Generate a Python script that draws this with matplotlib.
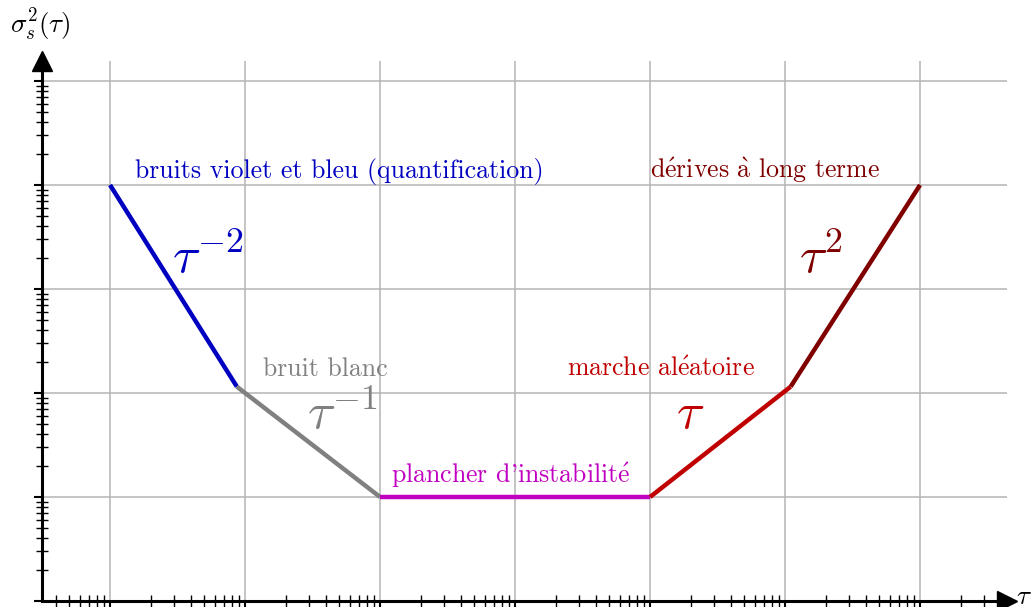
import numpy as np
import matplotlib
matplotlib.use('Agg')
import matplotlib.pyplot as plt
from matplotlib.ticker import LogLocator, NullFormatter

plt.rcParams['mathtext.fontset'] = 'cm'
plt.rcParams['font.family'] = ['cmr10', 'DejaVu Serif']
plt.rcParams['axes.unicode_minus'] = False

# segments of the Allan variance sketch (tau, sigma^2)
seg_tau = [[1, 8.7], [8.7, 100], [100, 1e4], [1e4, 1.1e5], [1.1e5, 1e6]]
seg_var = [[1e4, 115], [115, 10], [10, 10], [10, 115], [115, 1e4]]
seg_colors = ['#0000c0', '#808080', '#c000c0', '#c00000', '#800000']

# noise names and slopes (accents through mathtext, cmr10 has none)
noise_names = ['bruits violet et bleu (quantification)', 'bruit blanc',
               "plancher d'instabilit$\\mathrm{\\acute{e}}$",
               'marche al$\\mathrm{\\acute{e}}$atoire',
               'd$\\mathrm{\\acute{e}}$rives $\\mathrm{\\grave{a}}$ long terme']
name_pos = [(1.53, 1.17e4), (13.6, 145), (120, 13.6), (2430, 145), (1e4, 1.17e4)]
slope_labels = [r'$\tau^{-2}$', r'$\tau^{-1}$', r'$\tau$', r'$\tau^{2}$']
slope_pos = [(2.9, 1410), (28.8, 45.7), (15500, 45.7), (1.26e5, 1410)]
slope_colors = ['#0000c0', '#808080', '#c00000', '#800000']

fig = plt.figure(figsize=(10.32, 6.07), dpi=100)
ax = fig.add_axes([42 / 1032, 6 / 607, 965 / 1032, 540 / 607])
ax.set_xscale('log')
ax.set_yscale('log')
ax.set_xlim(10 ** -0.504, 10 ** 6.644)
ax.set_ylim(1, 10 ** 5.192)

ax.xaxis.set_major_locator(LogLocator(base=10, numticks=20))
ax.xaxis.set_minor_locator(LogLocator(base=10, subs=np.arange(2, 10), numticks=20))
ax.yaxis.set_major_locator(LogLocator(base=10, numticks=20))
ax.yaxis.set_minor_locator(LogLocator(base=10, subs=np.arange(2, 10), numticks=20))
ax.xaxis.set_major_formatter(NullFormatter())
ax.xaxis.set_minor_formatter(NullFormatter())
ax.yaxis.set_major_formatter(NullFormatter())
ax.yaxis.set_minor_formatter(NullFormatter())

ax.grid(True, which='major', color='#b4b4b4', linewidth=1.1)
ax.set_axisbelow(True)
ax.tick_params(which='major', direction='out', length=6, width=1.5, color='black')
ax.tick_params(which='minor', direction='inout', length=8, width=1.0, color='black')

for s in ['top', 'right']:
    ax.spines[s].set_visible(False)
for s in ['left', 'bottom']:
    ax.spines[s].set_linewidth(2.2)
    ax.spines[s].set_zorder(5)

for t, v, c in zip(seg_tau, seg_var, seg_colors):
    ax.plot(t, v, color=c, linewidth=3.2, solid_capstyle='butt', zorder=3)

for name, (x, y), c in zip(noise_names, name_pos, seg_colors):
    ax.text(x, y, name, color=c, fontsize=18.6, va='baseline', ha='left')

for lab, (x, y), c in zip(slope_labels, slope_pos, slope_colors):
    ax.text(x, y, lab, color=c, fontsize=37, va='baseline', ha='left')

# arrow heads
ax.plot([1], [0], marker='>', markersize=14, color='black', transform=ax.transAxes,
        clip_on=False, zorder=6)
ax.plot([0], [1], marker='^', markersize=14, color='black', transform=ax.transAxes,
        clip_on=False, zorder=6)

fig.text(10 / 1032, 1 - 33 / 607, r'$\sigma_s^2(\tau)$', fontsize=19.5, va='baseline')
fig.text(1016 / 1032, 1 - 604 / 607, r'$\tau$', fontsize=19.5, va='baseline')

fig.savefig('out.png', dpi=100)
